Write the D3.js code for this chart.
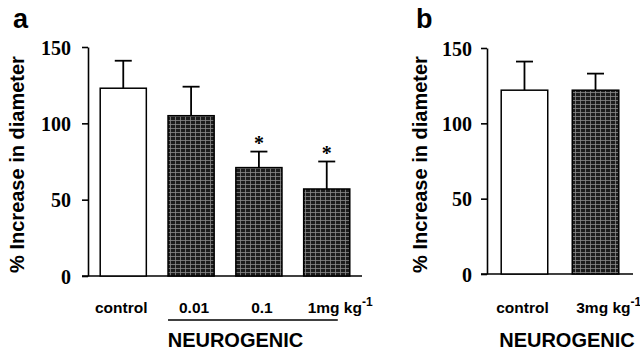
<!DOCTYPE html>
<html>
<head>
<meta charset="utf-8">
<script src="https://cdn.jsdelivr.net/npm/d3@7/dist/d3.min.js"></script>
<style>
  html, body { margin: 0; padding: 0; background: #fff; }
  svg { display: block; }
</style>
</head>
<body>
<svg id="chart" width="640" height="352"></svg>
<script>
// ---- data ----
const yTicks = [0, 50, 100, 150];

const panelACategories = ["control", "0.01", "0.1", "1mg"];
const panelAMeans = [123, 105, 71, 57];
const panelAErrors = [18, 19, 10.5, 18];
const panelASignificant = [false, false, true, true];
const panelAHatched = [false, true, true, true];

const panelBCategories = ["control", "3mg"];
const panelBMeans = [122, 122];
const panelBErrors = [19, 11];
const panelBSignificant = [false, false];
const panelBHatched = [false, true];

const unitText = " kg";
const unitSup = "-1";
const groupLabel = "NEUROGENIC";
const yTitle = "% Increase in diameter";

// ---- drawing ----
const svg = d3.select("#chart");
const sans = "'Liberation Sans', Arial, sans-serif";
const serif = "'Liberation Serif', 'Times New Roman', serif";

const defs = svg.append("defs");
const pat = defs.append("pattern")
  .attr("id", "grid").attr("patternUnits", "userSpaceOnUse")
  .attr("width", 5).attr("height", 4);
pat.append("rect").attr("width", 5).attr("height", 4).attr("fill", "#1c1c1c");
pat.append("path").attr("d", "M0,0.5H5M0.5,0V4")
  .attr("stroke", "#8a8a8a").attr("stroke-width", 0.8).attr("fill", "none");

function panel(opts) {
  const { cats, means, errs, sig, hatched, xRange, yRange, padInner, padOuter,
          letter, letterX, titleX, groupX, underline, tickPad } = opts;
  const g = svg.append("g");
  const x = d3.scaleBand().domain(cats).range(xRange)
    .paddingInner(padInner).paddingOuter(padOuter);
  const y = d3.scaleLinear().domain([0, 150]).range(yRange);

  // y axis
  const yAxis = d3.axisLeft(y).tickValues(yTicks).tickSize(6).tickSizeOuter(0).tickPadding(tickPad);
  const ya = g.append("g").attr("transform", `translate(${xRange[0]},0)`).call(yAxis);
  ya.attr("font-family", null).attr("font-size", null);
  ya.select(".domain").attr("stroke", "#000").attr("stroke-width", 1.6);
  ya.selectAll(".tick line").attr("stroke", "#000").attr("stroke-width", 1.6);
  ya.selectAll(".tick text")
    .style("font-family", serif).style("font-weight", "bold")
    .style("font-size", "20px").attr("fill", "#000").attr("dy", "0.35em");

  // baseline
  g.append("line").attr("x1", xRange[0] - 6).attr("x2", xRange[1])
    .attr("y1", y(0)).attr("y2", y(0)).attr("stroke", "#000").attr("stroke-width", 1.6);

  // bars
  cats.forEach((c, i) => {
    const bx = x(c), bw = x.bandwidth();
    const cx = bx + bw / 2;
    // error bar
    g.append("line").attr("x1", cx).attr("x2", cx)
      .attr("y1", y(means[i])).attr("y2", y(means[i] + errs[i]))
      .attr("stroke", "#000").attr("stroke-width", 1.8);
    g.append("line").attr("x1", cx - 8.5).attr("x2", cx + 8.5)
      .attr("y1", y(means[i] + errs[i])).attr("y2", y(means[i] + errs[i]))
      .attr("stroke", "#000").attr("stroke-width", 1.8);
    g.append("rect").attr("x", bx).attr("width", bw)
      .attr("y", y(means[i])).attr("height", y(0) - y(means[i]))
      .attr("fill", hatched[i] ? "url(#grid)" : "#fff")
      .attr("stroke", "#000").attr("stroke-width", 1.5);
    if (sig[i]) {
      g.append("text").attr("x", cx).attr("y", y(means[i] + errs[i]) - 2)
        .attr("text-anchor", "middle")
        .style("font-family", serif).style("font-weight", "bold").style("font-size", "20px")
        .text("*");
    }
    // category label
    const t = g.append("text").attr("y", 313)
      .style("font-family", sans).style("font-weight", "bold").style("font-size", "15.5px")
      .attr("fill", "#000");
    if (c.indexOf("mg") < 0) {
      t.attr("x", cx + (c === "control" ? -2 : 3)).attr("text-anchor", "middle").text(c);
    } else {
      t.attr("x", bx + 4).attr("text-anchor", "start");
      t.append("tspan").text(c + unitText);
      t.append("tspan").attr("dy", -7).style("font-size", "12px").text(unitSup);
    }
  });

  if (underline) {
    g.append("line").attr("x1", x(cats[1])).attr("x2", x(cats[cats.length - 1]) + x.bandwidth() - 12)
      .attr("y1", 320).attr("y2", 320).attr("stroke", "#000").attr("stroke-width", 1.5);
  }

  g.append("text").attr("x", groupX).attr("y", 347).attr("text-anchor", "middle")
    .style("font-family", sans).style("font-weight", "bold").style("font-size", "20px")
    .text(groupLabel);

  g.append("text").attr("transform", `translate(${titleX},164.5) rotate(-90)`)
    .attr("text-anchor", "middle")
    .style("font-family", sans).style("font-weight", "bold").style("font-size", "20px")
    .text(yTitle);

  g.append("text").attr("x", letterX).attr("y", 28)
    .style("font-family", sans).style("font-weight", "bold").style("font-size", "27px")
    .text(letter);
}

panel({
  cats: panelACategories, means: panelAMeans, errs: panelAErrors,
  sig: panelASignificant, hatched: panelAHatched,
  xRange: [88, 362], yRange: [276, 47], padInner: 0.32, padOuter: 0.18,
  letter: "a", letterX: 13, titleX: 24, groupX: 235.5, underline: true, tickPad: 11
});
panel({
  cats: panelBCategories, means: panelBMeans, errs: panelBErrors,
  sig: panelBSignificant, hatched: panelBHatched,
  xRange: [487, 633], yRange: [274, 48], padInner: 0.345, padOuter: 0.2,
  letter: "b", letterX: 416, titleX: 427, groupX: 567, underline: false, tickPad: 9
});
</script>
</body>
</html>
